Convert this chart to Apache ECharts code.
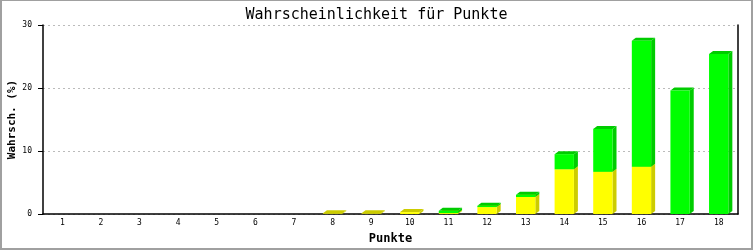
<!DOCTYPE html>
<html>
<head>
<meta charset="utf-8">
<script src="https://cdn.jsdelivr.net/npm/echarts@6/dist/echarts.min.js"></script>
<style>
html,body{margin:0;padding:0;background:#fff;}
#frame{width:753px;height:250px;box-sizing:border-box;border-style:solid;border-color:#a0a0a0;border-width:1px 2px 2px 2px;position:relative;overflow:hidden;}
#chart{position:absolute;left:-2px;top:-1px;width:753px;height:250px;}
</style>
</head>
<body>
<div id="frame"><div id="chart"></div></div>
<script>
const categories = ['1','2','3','4','5','6','7','8','9','10','11','12','13','14','15','16','17','18'];
const yellowValues = [0,0,0,0,0,0,0,0.1,0.1,0.3,0.15,1.1,2.7,7.1,6.7,7.5,0,0];
const greenValues  = [0,0,0,0,0,0,0,0,0,0,0.35,0.2,0.35,2.4,6.8,20.0,19.6,25.4];
const yTicks = [0,10,20,30];

const FONT = '"DejaVu Sans Mono", monospace';

const yellowData = [];
const greenData = [];
categories.forEach((c, i) => {
  const yv = yellowValues[i], gv = greenValues[i];
  if (yv > 0) yellowData.push([i, 0, yv]);
  if (gv > 0) greenData.push([i, yv, yv + gv]);
});

function makeRender(front, dark) {
  return function (params, api) {
    const idx = api.value(0);
    const p0 = api.coord([idx, api.value(1)]);
    const p1 = api.coord([idx, api.value(2)]);
    const w = api.size([1, 0])[0] * 0.5;
    const dx = 4, dy = 3;
    const xl = p0[0] - w / 2, xr = p0[0] + w / 2;
    const yb = p0[1], yt = p1[1];
    return {
      type: 'group',
      children: [
        { type: 'polygon', shape: { points: [[xr, yt], [xr + dx, yt - dy], [xr + dx, yb - dy], [xr, yb]] }, style: { fill: dark } },
        { type: 'polygon', shape: { points: [[xl, yt], [xl + dx, yt - dy], [xr + dx, yt - dy], [xr, yt]] }, style: { fill: dark } },
        { type: 'rect', shape: { x: xl, y: yt, width: w, height: Math.max(yb - yt, 0) }, style: { fill: front } }
      ]
    };
  };
}

const chart = echarts.init(document.getElementById('chart'), null, { renderer: 'canvas' });
chart.setOption({
  animation: false,
  backgroundColor: 'transparent',
  title: {
    text: 'Wahrscheinlichkeit für Punkte',
    left: 'center',
    top: 3,
    textStyle: { fontFamily: FONT, fontSize: 15, fontWeight: 'normal', color: '#000' }
  },
  grid: { left: 43, right: 15, top: 25, bottom: 36, containLabel: false, outerBoundsMode: 'none' },
  xAxis: {
    type: 'category',
    data: categories,
    name: 'Punkte',
    nameLocation: 'middle',
    nameGap: 19,
    nameMoveOverlap: false,
    nameTextStyle: { fontFamily: FONT, fontSize: 12, fontWeight: 'bold', color: '#000' },
    axisLine: { lineStyle: { color: '#000', width: 1.5 } },
    axisTick: { show: false },
    axisLabel: { fontFamily: FONT, fontSize: 8, color: '#000', margin: 5 },
    splitLine: { show: false }
  },
  yAxis: [{
    type: 'value',
    min: yTicks[0],
    max: yTicks[yTicks.length - 1],
    interval: 10,
    name: 'Wahrsch. (%)',
    nameLocation: 'middle',
    nameGap: 25,
    nameMoveOverlap: false,
    nameTextStyle: { fontFamily: FONT, fontSize: 11, fontWeight: 'bold', color: '#000' },
    axisLine: { show: true, lineStyle: { color: '#000', width: 1.5 } },
    axisTick: { show: true, length: 5, lineStyle: { color: '#000' } },
    axisLabel: { fontFamily: FONT, fontSize: 8, color: '#000', margin: 11 },
    splitLine: { show: true, lineStyle: { color: '#bbbbbb', type: [2, 3], width: 1 } }
  }, {
    type: 'value',
    position: 'right',
    min: 0, max: 30, interval: 10,
    axisLine: { show: true, lineStyle: { color: '#000', width: 1.5 } },
    axisTick: { show: false },
    axisLabel: { show: false },
    splitLine: { show: false }
  }],
  series: [
    { type: 'custom', name: 'gelb', renderItem: makeRender('#ffff00', '#cccc00'), data: yellowData, z: 2, encode: { x: 0, y: [1, 2] } },
    { type: 'custom', name: 'grün', renderItem: makeRender('#00ff00', '#00cc00'), data: greenData, z: 3, encode: { x: 0, y: [1, 2] } }
  ]
});
</script>
</body>
</html>
